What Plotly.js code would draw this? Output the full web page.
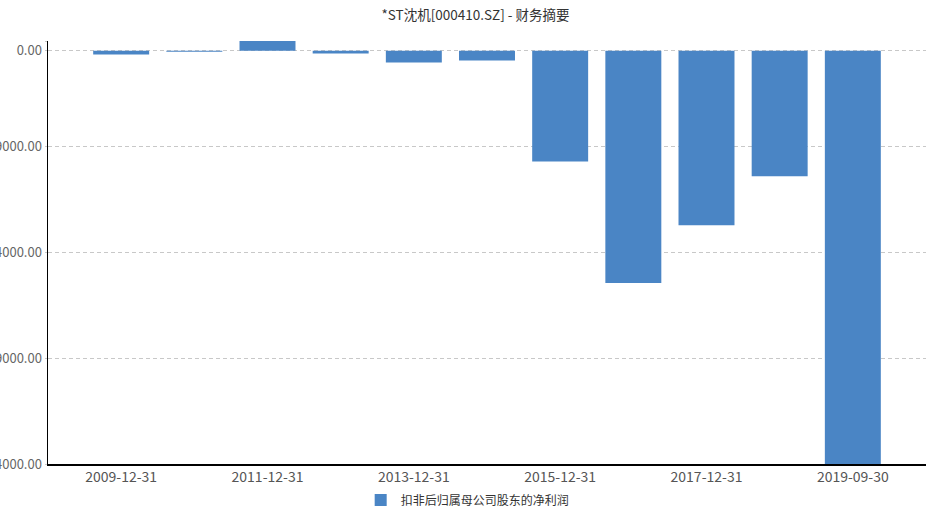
<!DOCTYPE html>
<html>
<head>
<meta charset="utf-8">
<script src="https://cdn.plot.ly/plotly-3.0.1.min.js"></script>
<style>html,body{margin:0;padding:0;background:#fff;}#chart{width:951px;height:517px;}</style>
</head>
<body>
<div id="chart"></div>
<script>
// Report dates (categories)
const categories = ["2009-12-31","2010-12-31","2011-12-31","2012-12-31","2013-12-31","2014-12-31","2015-12-31","2016-12-31","2017-12-31","2018-12-31","2019-09-30"];
// 扣非后归属母公司股东的净利润 (万元)
const netProfitExNonRecurring = [-2300, -600, 5950, -1650, -7200, -5950, -68000, -142800, -107300, -77200, -254000];
// Axis ticks
const xTickLabels = ["2009-12-31","2011-12-31","2013-12-31","2015-12-31","2017-12-31","2019-09-30"];
const yTickValues = [6000, 0, -59000, -124000, -189000, -254000];
const yTickLabels = ["", "0.00", "-59000.00", "-124000.00", "-189000.00", "-254000.00"];
const seriesName = "扣非后归属母公司股东的净利润";
const chartTitle = "*ST沈机[000410.SZ] - 财务摘要";

const font = "'Noto Sans CJK SC', 'Microsoft YaHei', sans-serif";

const data = [{
  type: "bar",
  x: categories,
  y: netProfitExNonRecurring,
  name: seriesName,
  marker: {color: "#4a85c5"},
  hoverinfo: "x+y"
}];

const layout = {
  width: 951, height: 517,
  margin: {l: 48, r: 25, t: 41, b: 53, autoexpand: false},
  paper_bgcolor: "#fff", plot_bgcolor: "#fff",
  font: {family: font, size: 13, color: "#666"},
  title: {text: chartTitle, x: 0.5, xanchor: "center", y: 0.97, yanchor: "middle", yref: "container",
          font: {family: font, size: 13.5, color: "#333"}},
  bargap: 0.235,
  showlegend: true,
  legend: {orientation: "h", x: 0.478, xanchor: "center", y: -0.085, yanchor: "middle",
           font: {family: font, size: 12, color: "#333"}},
  xaxis: {
    type: "category", range: [-1, 11],
    tickmode: "array", tickvals: xTickLabels, ticktext: xTickLabels,
    showgrid: false, zeroline: false,
    showline: true, linecolor: "#000", linewidth: 1.5,
    ticks: "", tickfont: {family: font, size: 14, color: "#555"},
    automargin: false
  },
  yaxis: {
    range: [-254000, 6000],
    tickmode: "array", tickvals: yTickValues, ticktext: yTickLabels,
    showgrid: true, gridcolor: "#c8c8c8", griddash: "4px,3px", gridwidth: 1,
    zeroline: false,
    showline: true, linecolor: "#000", linewidth: 1.5,
    ticks: "outside", ticklen: 2, tickcolor: "#c8c8c8",
    tickfont: {family: font, size: 13, color: "#666"},
    automargin: false
  }
};

Plotly.newPlot("chart", data, layout, {displayModeBar: false, staticPlot: true});
</script>
</body>
</html>
